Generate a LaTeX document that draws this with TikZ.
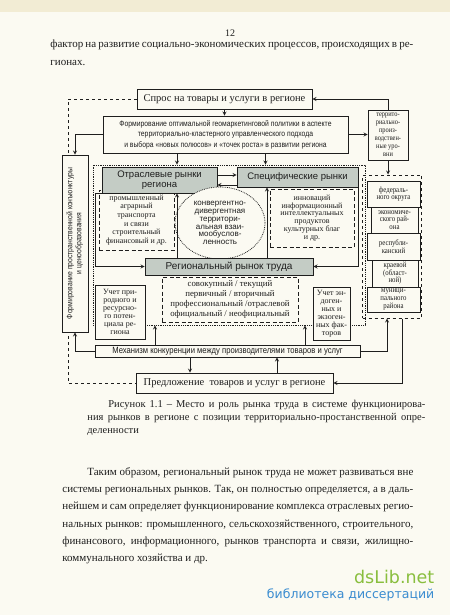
\documentclass[tikz,border=0pt]{standalone}
\usepackage{fontspec}
\usepackage{graphicx}
\setmainfont{Liberation Serif}
\setsansfont{Liberation Sans}
\newfontfamily\narrowsans[FakeStretch=0.85]{Liberation Sans}
\newfontfamily\narrowserif[FakeStretch=0.85]{Liberation Serif}
\newfontfamily\markfont{DejaVu Sans}
\usetikzlibrary{shapes.geometric}

\definecolor{paper}{RGB}{251,250,242}
\definecolor{ink}{RGB}{30,30,30}
\definecolor{mktgray}{RGB}{196,204,197}
\definecolor{scanband}{RGB}{242,236,212}
\definecolor{dsgreen}{RGB}{137,190,62}
\definecolor{dsblue}{RGB}{58,140,208}

\newcommand{\fillline}[2]{\makebox[#1][s]{#2}}

\tikzset{
  box/.style={draw=ink, fill=paper, line width=0.8pt, inner sep=1pt, align=center, text=ink},
  graybox/.style={box, fill=mktgray, font=\sffamily\fontsize{9.5}{10.5}\selectfont},
  dashbox/.style={box, dash pattern=on 4pt off 2.5pt, line width=1pt},
  levelbox/.style={box, font=\narrowserif\fontsize{8}{7.6}\selectfont},
  pagetext/.style={anchor=north west, inner sep=0pt, align=left, text=ink}
}

\begin{document}
\begin{tikzpicture}[
    x=1pt, y=-1pt,
    >=stealth,
    line width=0.8pt,
    draw=ink
]
  \fill[paper] (0,0) rectangle (450,615);
  \fill[scanband] (0,0) rectangle (450,12);
  \useasboundingbox (0,0) rectangle (450,615);

  % page text
  \node[font=\fontsize{10}{12}\selectfont, text=ink] (pagenum) at (230,33) {12};
  \node[pagetext, font=\fontsize{11}{18.5}\selectfont] (prevtext) at (50,39)
    {\fillline{363pt}{фактор на развитие социально-экономических процессов, происходящих в ре-}\\гионах.};

  % frame of the regional markets
  \node[draw=ink, densely dotted, line width=0.8pt, minimum width=272, minimum height=160] (frame) at (229,245) {};

  % demand and supply
  \node[box, minimum width=175, minimum height=20, font=\fontsize{10.5}{12}\selectfont] (demand) at (224.5,99) {Спрос на товары и услуги в регионе};
  \node[box, minimum width=197, minimum height=20, font=\fontsize{10.5}{12}\selectfont] (supply) at (234.5,383) {Предложение~ товаров и услуг в регионе};
  \coordinate (backline) at (68,250);
  \draw[dashed, line width=0.9pt] (demand.west) -| (backline) |- (supply.west);

  \node[box, minimum width=245, minimum height=37, font=\narrowsans\fontsize{8}{10.5}\selectfont] (geo) at (225.5,134.5)
    {Формирование оптимальной геомаркетинговой политики в аспекте\\территориально-кластерного управленческого подхода\\и выбора «новых полюсов» и «точек роста» в развитии региона};
  \node[box, minimum width=40, minimum height=50, font=\narrowserif\fontsize{7.5}{8}\selectfont] (terr) at (388,135)
    {террито-\\риально-\\произ-\\водствен-\\ные уро-\\вни};
  \node[box, minimum width=26, minimum height=177, font=\narrowsans\fontsize{8}{9}\selectfont] (spatial) at (75,243.5)
    {\rotatebox{90}{\begin{tabular}{@{}c@{}}Формирование пространственной конъюнктуры\\и ценообразования\end{tabular}}};

  % markets
  \node[dashbox, minimum width=75, minimum height=60, font=\fontsize{8}{8.6}\selectfont] (sectorlist) at (136.5,220)
    {промышленный\\аграрный\\транспорта\\и связи\\строительный\\финансовый и др.};
  \node[dashbox, minimum width=84, minimum height=58, font=\fontsize{8}{7.9}\selectfont] (speclist) at (312,218)
    {инноваций\\информационный\\интеллектуальных\\продуктов\\культурных благ\\и др.};
  \node[graybox, minimum width=115, minimum height=26] (sector) at (159.5,180) {Отраслевые рынки\\региона};
  \node[graybox, minimum width=121, minimum height=20] (specific) at (297.5,177) {Специфические рынки};
  \node[ellipse, draw=ink, densely dotted, fill=paper, minimum width=90, minimum height=72, inner sep=0pt,
        align=center, text=ink, font=\sffamily\fontsize{8}{7.8}\selectfont] (interdep) at (220,223)
    {конвергентно-\\дивергентная\\территори-\\альная взаи-\\мообуслов-\\ленность};
  \node[graybox, minimum width=168, minimum height=17, font=\sffamily\fontsize{10}{11}\selectfont] (labour) at (229,266.5) {Региональный рынок труда};
  \node[dashbox, minimum width=136, minimum height=45, font=\fontsize{8.8}{9.8}\selectfont] (labourtypes) at (230,299.5)
    {совокупный / текущий\\первичный / вторичный\\профессиональный /отраслевой\\официальный / неофициальный};
  \node[box, minimum width=50, minimum height=54, font=\fontsize{8}{8}\selectfont] (natural) at (120,312)
    {Учет при-\\родного и\\ресурсно-\\го потен-\\циала ре-\\гиона};
  \node[box, minimum width=37, minimum height=53, font=\fontsize{8}{8}\selectfont] (factors) at (331.5,313.5)
    {Учет эн-\\доген-\\ных и\\экзоген-\\ных фак-\\торов};
  \node[box, minimum width=265, minimum height=12, font=\narrowsans\fontsize{9}{9.5}\selectfont] (competition) at (227.5,351)
    {Механизм конкуренции между производителями товаров и услуг};

  % territorial levels
  \node[draw=ink, dashed, line width=1pt, minimum width=59, minimum height=143] (levels) at (392,246.5) {};
  \node[levelbox, minimum width=53, minimum height=26] (federal) at (393.5,194) {федераль-\\ного округа};
  \node[levelbox, minimum width=47, minimum height=26] (economic) at (394.5,220) {экономиче-\\ского рай-\\она};
  \node[levelbox, minimum width=53, minimum height=27] (republic) at (393.5,246.5) {республи-\\канский};
  \node[levelbox, minimum width=46, minimum height=27] (regional) at (395,273.5) {краевой\\(област-\\ной)};
  \node[levelbox, minimum width=53, minimum height=25] (municipal) at (393.5,299.5) {муници-\\пального\\района};

  % edges
  \draw[->] (demand.south) -- (demand.south |- geo.north);
  \draw[->] (geo.west) -| (spatial.north);
  \draw[->] (geo.east) -- (geo.east -| terr.west);
  \draw[->] (terr.north) |- (demand.east);
  \draw[->] (terr.south) -- (terr.south |- levels.north);
  \draw[->] ([xshift=-48.5pt]geo.south) -- ([xshift=-48.5pt]geo.south |- frame.north);
  \draw[->] ([xshift=40pt]geo.south) -- ([xshift=40pt]geo.south |- frame.north);
  \draw[->] ([yshift=5pt]sector.east) -- ([yshift=5pt]sector.east -| specific.west);
  \draw[->] ([yshift=-5pt]sector.east -| specific.west) -- ([yshift=-5pt]sector.east);
  \draw[->] ([xshift=-52pt]labour.north) -- ([xshift=-52pt]labour.north |- sector.south);
  \draw[->] ([xshift=38pt]labour.north) -- ([xshift=38pt]labour.north |- specific.south);
  \draw[->] (sector.south west) -- ++(-6,0) |- (labour.west);
  \draw[->] (specific.south east) |- (labour.east);
  \draw[->] (competition.west) -| (spatial.south);
  \draw[->] ([xshift=-72.5pt]competition.north) -- ([xshift=-72.5pt]competition.north |- frame.south);
  \draw[->] ([xshift=77.5pt]competition.north) -- ([xshift=77.5pt]competition.north |- frame.south);
  \draw[->] ([xshift=-37.5pt]competition.south) -- ([xshift=-37.5pt]competition.south |- supply.north);
  \draw[->] ([xshift=42.5pt]supply.north) -- ([xshift=42.5pt]supply.north |- competition.south);
  \draw[->] (competition.east) -| ([xshift=-5pt]levels.south);
  \draw[->] ([xshift=10pt]levels.south) |- (supply.east);

  % caption and text below
  \node[pagetext, font=\fontsize{10.5}{13}\selectfont] (caption) at (87,400)
    {\hspace*{21pt}\fillline{317pt}{Рисунок 1.1 – Место и роль рынка труда в системе функционирова-}\\
     \fillline{338pt}{ния рынков в регионе с позиции территориально-простанственной опре-}\\
     деленности};
  \node[pagetext, font=\fontsize{11}{17.3}\selectfont] (conclusion) at (62,467)
    {\hspace*{25pt}\fillline{326pt}{Таким образом, региональный рынок труда не может развиваться вне}\\
     \fillline{351pt}{системы региональных рынков. Так, он полностью определяется, а в даль-}\\
     \fillline{351pt}{нейшем и сам определяет функционирование комплекса отраслевых регио-}\\
     \fillline{351pt}{нальных рынков: промышленного, сельскохозяйственного, строительного,}\\
     \fillline{351pt}{финансового, информационного, рынков транспорта и связи, жилищно-}\\
     коммунального хозяйства и др.};

  % watermark
  \node[anchor=east, font=\markfont\fontsize{17.5}{18}\selectfont, text=dsgreen] (wmark) at (438,577) {dsLib.net};
  \node[anchor=east, font=\markfont\fontsize{12.5}{13}\selectfont, text=dsblue] (wmarksub) at (438,595) {библиотека диссертаций};
\end{tikzpicture}
\end{document}
